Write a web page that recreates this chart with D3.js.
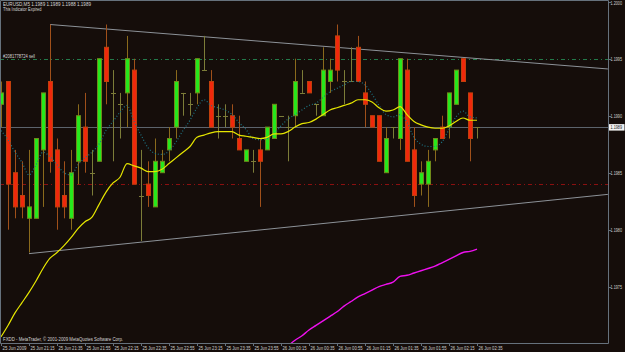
<!DOCTYPE html>
<html><head><meta charset="utf-8">
<script src="https://cdn.jsdelivr.net/npm/d3@7"></script>
<style>html,body{margin:0;padding:0;background:#150d0a;overflow:hidden}</style>
</head><body>
<svg id="c" width="625" height="352"></svg>
<script>
// ---- data ----
const openP  = [1.1991,1.1993,1.1985,1.1983,1.1981,1.1981,1.1987,1.1993,1.1987,1.1983,1.1981,1.1986,1.1989,1.1985,1.1986,1.1996,1.1992,1.1991,1.1992,1.1994,1.1983,1.1984,1.1982,1.1985,1.1987,1.1989,1.1992,1.1991,1.1992,1.1994,1.1993,1.1990,1.1990,1.1990,1.1988,1.1986,1.1986,1.1987,1.1987,1.1988,1.1990,1.1989,1.1990,1.1992,1.1993,1.1991,1.1990,1.1993,1.1997,1.1993,1.1993,1.1996,1.1992,1.1990,1.1990,1.1985,1.1989,1.1988,1.1994,1.1987,1.1984,1.1984,1.1987,1.1989,1.1989,1.1991,1.1995,1.1992,1.1989];
const highP  = [1.1993,1.1993,1.1987,1.1986,1.1987,1.1988,1.1992,1.1998,1.1988,1.1986,1.1987,1.1991,1.1992,1.1987,1.1995,1.1998,1.1994,1.1992,1.1997,1.1995,1.1987,1.1986,1.1988,1.1987,1.1989,1.1994,1.1992,1.1992,1.1995,1.1997,1.1994,1.1991,1.1991,1.1991,1.1990,1.1987,1.1987,1.1988,1.1989,1.1991,1.1990,1.1990,1.1995,1.1994,1.1993,1.1991,1.1996,1.1995,1.1998,1.1994,1.1996,1.1997,1.1993,1.1990,1.1990,1.1989,1.1989,1.1995,1.1995,1.1989,1.1986,1.1987,1.1988,1.1990,1.1992,1.1994,1.1995,1.1992,1.1989];
const lowP   = [1.1989,1.1980,1.1981,1.1981,1.1978,1.1981,1.1982,1.1985,1.1980,1.1981,1.1980,1.1984,1.1985,1.1983,1.1986,1.1991,1.1986,1.1988,1.1989,1.1984,1.1979,1.1982,1.1982,1.1985,1.1986,1.1988,1.1990,1.1990,1.1991,1.1994,1.1989,1.1988,1.1989,1.1988,1.1987,1.1986,1.1985,1.1982,1.1987,1.1988,1.1990,1.1986,1.1989,1.1992,1.1992,1.1990,1.1990,1.1992,1.1993,1.1991,1.1993,1.1993,1.1989,1.1989,1.1986,1.1985,1.1988,1.1987,1.1986,1.1982,1.1983,1.1982,1.1986,1.1988,1.1988,1.1991,1.1993,1.1986,1.1988];
const closeP = [1.1992,1.1984,1.1982,1.1982,1.1982,1.1988,1.1992,1.1986,1.1982,1.1982,1.1985,1.1990,1.1986,1.1985,1.1995,1.1993,1.1992,1.1991,1.1995,1.1984,1.1983,1.1983,1.1986,1.1986,1.1988,1.1993,1.1992,1.1991,1.1995,1.1994,1.1989,1.1990,1.1990,1.1989,1.1987,1.1987,1.1986,1.1986,1.1989,1.1991,1.1990,1.1989,1.1993,1.1992,1.1992,1.1991,1.1994,1.1994,1.1994,1.1993,1.1993,1.1993,1.1991,1.1989,1.1986,1.1988,1.1989,1.1995,1.1986,1.1983,1.1985,1.1986,1.1988,1.1988,1.1992,1.1994,1.1993,1.1988,1.1989];
const maSlow = [1.19706,1.19716,1.19727,1.19736,1.19745,1.19755,1.19766,1.19775,1.19780,1.19786,1.19793,1.19801,1.19807,1.19811,1.19822,1.19833,1.19841,1.19846,1.19858,1.19856,1.19854,1.19851,1.19851,1.19853,1.19858,1.19863,1.19868,1.19873,1.19881,1.19883,1.19885,1.19886,1.19886,1.19886,1.19883,1.19882,1.19881,1.19880,1.19881,1.19884,1.19884,1.19886,1.19890,1.19893,1.19894,1.19897,1.19901,1.19905,1.19907,1.19909,1.19911,1.19914,1.19914,1.19912,1.19907,1.19904,1.19905,1.19908,1.19901,1.19895,1.19892,1.19890,1.19889,1.19889,1.19891,1.19895,1.19898,1.19896,1.19896];
const maFast = [1.19887,1.19879,1.19868,1.19859,1.19848,1.19857,1.19868,1.19864,1.19857,1.19850,1.19848,1.19857,1.19863,1.19868,1.19875,1.19887,1.19895,1.19903,1.19909,1.19895,1.19883,1.19872,1.19867,1.19866,1.19869,1.19877,1.19887,1.19896,1.19907,1.19914,1.19909,1.19907,1.19905,1.19901,1.19894,1.19888,1.19880,1.19879,1.19880,1.19884,1.19891,1.19897,1.19901,1.19905,1.19909,1.19911,1.19916,1.19921,1.19924,1.19927,1.19930,1.19930,1.19927,1.19919,1.19909,1.19901,1.19899,1.19901,1.19894,1.19881,1.19875,1.19873,1.19873,1.19877,1.19888,1.19899,1.19904,1.19899,1.19898];
const maMagentaStart = 41;
const maMagenta = [1.19698,1.19703,1.19707,1.19712,1.19716,1.19720,1.19724,1.19728,1.19733,1.19737,1.19741,1.19744,1.19747,1.19750,1.19752,1.19754,1.19759,1.19760,1.19762,1.19764,1.19766,1.19768,1.19771,1.19774,1.19777,1.19780,1.19781,1.19783];
const timeLabels = ["25 Jun 2009","25 Jun 21:15","25 Jun 21:35","25 Jun 21:55","25 Jun 22:15","25 Jun 22:35","25 Jun 22:55","25 Jun 23:15","25 Jun 23:35","25 Jun 23:55","26 Jun 00:15","26 Jun 00:35","26 Jun 00:55","26 Jun 01:15","26 Jun 01:35","26 Jun 01:55","26 Jun 02:15","26 Jun 02:35"];
const priceTicks = [1.2000,1.1995,1.1990,1.1985,1.1980,1.1975];
const priceTickLabels = ["1.2000","1.1995","1.1990","1.1985","1.1980","1.1975"];
const topTrend = [[7,1.19980],[86.7,1.19941]];
const bottomTrend = [[4,1.19779],[86.7,1.19831]];
const bidPrice = 1.1989;
const sellLevel = 1.1995;
const stopLevel = 1.1984;
const headerText = "EURUSD,M5  1.1989 1.1989 1.1988 1.1989";
const subText = "This Indicator Expired";
const orderText = "#2081778724 sell";
const copyText = "FXDD - MetaTrader, \u00A9 2001-2009 MetaQuotes Software Corp.";

// ---- layout ----
const svg = d3.select("#c");
const W = 625, H = 352, plotR = 608, plotB = 343.5;
const x = d3.scaleLinear().domain([0, 68]).range([1, 477]);
const y = d3.scaleLinear().domain([1.1975, 1.2000]).range([286.7, 1.7]);

svg.append("rect").attr("width", W).attr("height", H).attr("fill", "#150d0a");
const frameCol = "#66717c";
svg.append("defs").append("clipPath").attr("id","pc").append("rect")
  .attr("x",0).attr("y",0).attr("width",plotR).attr("height",plotB);
const plot = svg.append("g").attr("clip-path","url(#pc)");

// level lines
const hline = (p, col, dash) => {
  const yy = Math.round(y(p)) + 0.5;
  const l = plot.append("line").attr("x1",0).attr("x2",plotR).attr("y1",yy).attr("y2",yy).attr("stroke",col);
  if (dash) l.attr("stroke-dasharray", dash);
};
hline(sellLevel, "#237a4a", "4,3,1,3");
hline(stopLevel, "#8a1010", "4,3,1,3");
hline(bidPrice, "#5c636c", null);

// trend lines
[topTrend, bottomTrend].forEach(t => {
  plot.append("line").attr("x1",x(t[0][0])).attr("y1",y(t[0][1])).attr("x2",x(t[1][0])).attr("y2",y(t[1][1]))
    .attr("stroke","#8d9298").attr("stroke-width",1);
});

// candles
const bars = d3.range(openP.length).map(i => ({i, o:openP[i], h:highP[i], l:lowP[i], c:closeP[i]}));
const g = plot.append("g");
bars.forEach(b => {
  const cx = Math.round(x(b.i)) + 0.5;
  const doji = Math.abs(b.o - b.c) < 1e-9;
  const up = b.c > b.o;
  const wickCol = doji ? "#7c7c38" : (up ? "#8a6a1c" : "#a0501a");
  g.append("line").attr("x1",cx).attr("x2",cx).attr("y1",y(b.h)).attr("y2",y(b.l)).attr("stroke",wickCol);
  if (doji) {
    const yy = Math.round(y(b.o)) + 0.5;
    g.append("line").attr("x1",cx-2.5).attr("x2",cx+2.5).attr("y1",yy).attr("y2",yy).attr("stroke",wickCol);
  } else {
    const top = y(Math.max(b.o,b.c)), bot = y(Math.min(b.o,b.c));
    g.append("rect").attr("x",cx-2).attr("y",top).attr("width",4).attr("height",bot-top)
      .attr("fill", up ? "#26e81c" : "#f0280c").attr("stroke", up ? "#6f8a1a" : "#c0400c").attr("stroke-width",1);
  }
});

// moving averages
const lineGen = d3.line().x(d => x(d[0])).y(d => y(d[1])).curve(d3.curveMonotoneX);
plot.append("path").attr("d", lineGen(maFast.map((v,i)=>[i,v]))).attr("fill","none")
  .attr("stroke","#1d7584").attr("stroke-width",1.2).attr("stroke-dasharray","1,2");
plot.append("path").attr("d", lineGen(maSlow.map((v,i)=>[i,v]))).attr("fill","none")
  .attr("stroke","#e6e600").attr("stroke-width",1.2);
plot.append("path").attr("d", lineGen(maMagenta.map((v,i)=>[i+maMagentaStart,v]))).attr("fill","none")
  .attr("stroke","#ee10ee").attr("stroke-width",1.4);

// frame
svg.append("path").attr("d",`M0.5,0.5H${plotR+0.5}V${plotB}H0.5Z`).attr("fill","none").attr("stroke",frameCol);

const font = "'Liberation Sans', Arial, sans-serif";
// price axis
priceTicks.forEach((p,k) => {
  const yy = y(p);
  svg.append("line").attr("x1",plotR+0.5).attr("x2",plotR+3).attr("y1",Math.round(yy)+0.5).attr("y2",Math.round(yy)+0.5).attr("stroke",frameCol);
  svg.append("text").attr("x",610.5).attr("y",Math.max(yy+2, 5)).attr("font-family",font).attr("font-size","5px")
    .attr("fill","#cfcfcf").attr("textLength",11.5).attr("lengthAdjust","spacingAndGlyphs").text(priceTickLabels[k]);
});
// bid label
const by = y(bidPrice);
svg.append("rect").attr("x",609).attr("y",by-3).attr("width",15.5).attr("height",6.5).attr("fill","#f2f2f2");
svg.append("text").attr("x",610.5).attr("y",by+2).attr("font-family",font).attr("font-size","5px")
  .attr("fill","#1a1a1a").attr("textLength",11.5).attr("lengthAdjust","spacingAndGlyphs").text(d3.format(".4f")(bidPrice));

// time axis
timeLabels.forEach((t,k) => {
  const tx = Math.round(x(k*4)) + 0.5;
  svg.append("line").attr("x1",tx).attr("x2",tx).attr("y1",plotB).attr("y2",plotB+2.5).attr("stroke",frameCol);
  svg.append("text").attr("x",tx+1).attr("y",350).attr("font-family",font).attr("font-size","5px")
    .attr("fill","#cfcfcf").attr("textLength", 24).attr("lengthAdjust","spacingAndGlyphs").text(t);
});

// texts
const txt = (s, tx, ty, len, col) => svg.append("text").attr("x",tx).attr("y",ty).attr("font-family",font)
  .attr("font-size","5.5px").attr("fill",col||"#d6d6d6").attr("textLength",len).attr("lengthAdjust","spacingAndGlyphs").text(s);
txt(headerText, 3, 6, 88);
txt(subText, 3, 11, 38.5);
txt(orderText, 3, 58, 32);
txt(copyText, 3, 341, 120);
</script>
</body></html>
